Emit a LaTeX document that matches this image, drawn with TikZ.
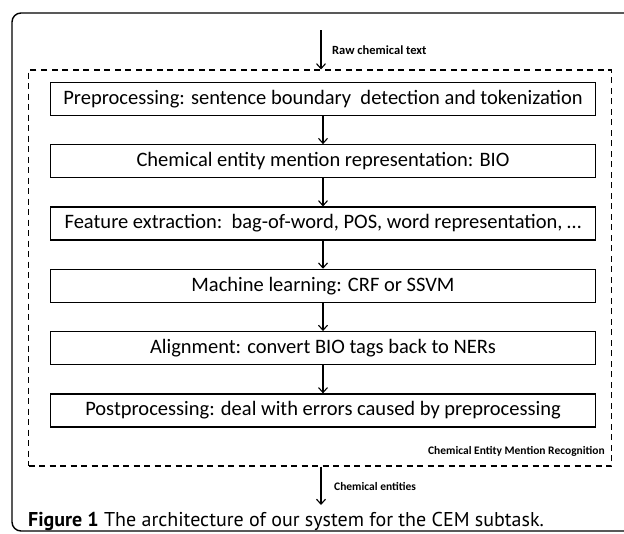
\documentclass[tikz,border=0pt]{standalone}
\usepackage{fontspec}
\newfontfamily\boxfont{Carlito}
\newfontfamily\capfont{PT Sans}
\usetikzlibrary{positioning,arrows.meta}

\begin{document}
\begin{tikzpicture}[
  x=1pt, y=-1pt,
  stage/.style={draw, line width=1.3pt, minimum width=545pt, minimum height=33pt,
    inner sep=0pt, font=\boxfont\fontsize{20.5}{22}\selectfont},
  flow/.style={line width=1.1pt, -{Straight Barb[length=5pt,width=9pt]}},
  tag/.style={inner sep=0pt, font=\boxfont\bfseries\fontsize{11.5}{13}\selectfont},
]
  \useasboundingbox (0,0) rectangle (624,533);
  \draw[line width=1.4pt, rounded corners=9pt] (12,13) rectangle (660,531);

  % recognition pipeline
  \node[stage] (pre) at (323,99)
    {Preprocessing: sentence boundary\ \ detection and tokenization};
  \node[stage, below=28pt of pre] (rep)
    {Chemical entity mention representation: BIO};
  \node[stage, below=28pt of rep] (feat)
    {Feature extraction:\ \ bag-of-word, POS, word representation, …};
  \node[stage, below=28pt of feat] (ml) {Machine learning: CRF or SSVM};
  \node[stage, below=28pt of ml] (align)
    {Alignment: convert BIO tags back to NERs};
  \node[stage, below=28pt of align] (post)
    {Postprocessing: deal with errors caused by preprocessing};

  \node[draw, line width=1.1pt, dash pattern=on 6pt off 4.5pt,
    minimum width=583pt, minimum height=396pt] (cem) at (320,268) {};
  \node[tag, anchor=east] (cemlbl) at (605,451)
    {Chemical Entity Mention Recognition};

  % input and output
  \coordinate (raw) at (321,30);
  \coordinate (out) at (321,505);
  \draw[flow] (raw) -- (raw |- cem.north);
  \node[tag, anchor=west, font=\boxfont\bfseries\fontsize{12.5}{14}\selectfont]
    (rawlbl) at (332,50) {Raw chemical text};
  \foreach \a/\b in {pre/rep, rep/feat, feat/ml, ml/align, align/post}
    \draw[flow] (\a) -- (\b);
  \draw[flow] (out |- cem.south) -- (out);
  \node[tag, anchor=west] (entlbl) at (334,486) {Chemical entities};

  \node[anchor=base west, inner sep=0pt, font=\capfont\fontsize{20}{24}\selectfont]
    (caption) at (28,526)
    {\textbf{Figure 1} The architecture of our system for the CEM subtask.};
\end{tikzpicture}
\end{document}
